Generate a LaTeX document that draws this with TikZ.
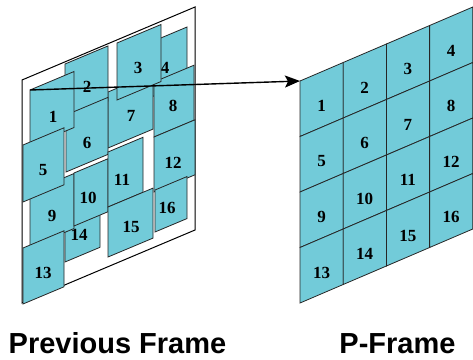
\documentclass[tikz,border=0pt]{standalone}
\usepackage{fontspec}
\setmainfont{Liberation Serif}
\setsansfont{Liberation Sans}
\usetikzlibrary{arrows.meta}
\definecolor{blockcyan}{RGB}{114,203,217}
\tikzset{
  blk/.style={fill=blockcyan, draw=black!85, line width=0.8pt},
  num/.style={font=\fontsize{17}{17}\selectfont\bfseries, inner sep=0pt},
  caption/.style={font=\fontsize{29}{29}\selectfont\sffamily\bfseries, inner sep=0pt, anchor=base},
}

\begin{document}
\begin{tikzpicture}[x=1pt, y=-1pt]
    \useasboundingbox (0,0) rectangle (473,359);
    % previous frame: white sheet with the displaced blocks on it
    \draw[fill=white, line width=1pt] (22,80) -- (195,7) -- (195,230) -- (22,303) -- cycle;
    \foreach \x/\y/\w/\h/\lx/\ly/\n in {143/45.5/44/55/165/68/4, 108/92/45/56/131/116/7,
        154/82/40/55/173/106/8, 117/43/44/57/138/68/3, 65/64/43/55/87/87/2,
        66/115/42/57/87/143/6, 30/90/44/56/53/117/1, 65/207/35/55/79/235/14,
        30/192/44/55/52/216/9, 23/145/41/57/43/170/5, 23/248/41/56/43/273/13,
        74/173/34/53/88/198/10, 108/152/35/55/122/180/11, 108/207/45/50/131/227/15,
        154/137/41/55/173/163/12, 155/190/32/42/167/208/16}{
        \draw[blk] (\x,\y) -- ++(\w,{-0.42*\w}) -- ++(0,\h) -- ++(-\w,{0.42*\w}) -- cycle;
        \node[num] (prev\n) at (\lx,\ly) {\n};
    }
    \coordinate (mv) at (30,90);

    % P-frame: regular 4x4 grid
    \foreach \r in {0,...,3}
        \foreach \c in {0,...,3}{
            \pgfmathtruncatemacro\k{4*\r+\c+1}
            \draw[blk] ({300+43.2*\c},{81-18.5*\c+55.5*\r}) -- ++(43.2,-18.5) -- ++(0,55.5) -- ++(-43.2,18.5) -- cycle;
            \node[num] (p\k) at ({321.5+43.2*\c},{106-18.5*\c+55.5*\r}) {\k};
        }
    \coordinate (pf) at (300,81);

    \draw[line width=1.4pt, -{Stealth[length=15pt,width=12pt,inset=3pt]}] (mv) -- (pf);

    \node[caption] (prevlbl) at (117.5,353) {Previous Frame};
    \node[caption] (plbl) at (397.5,353) {P-Frame};
\end{tikzpicture}
\end{document}
